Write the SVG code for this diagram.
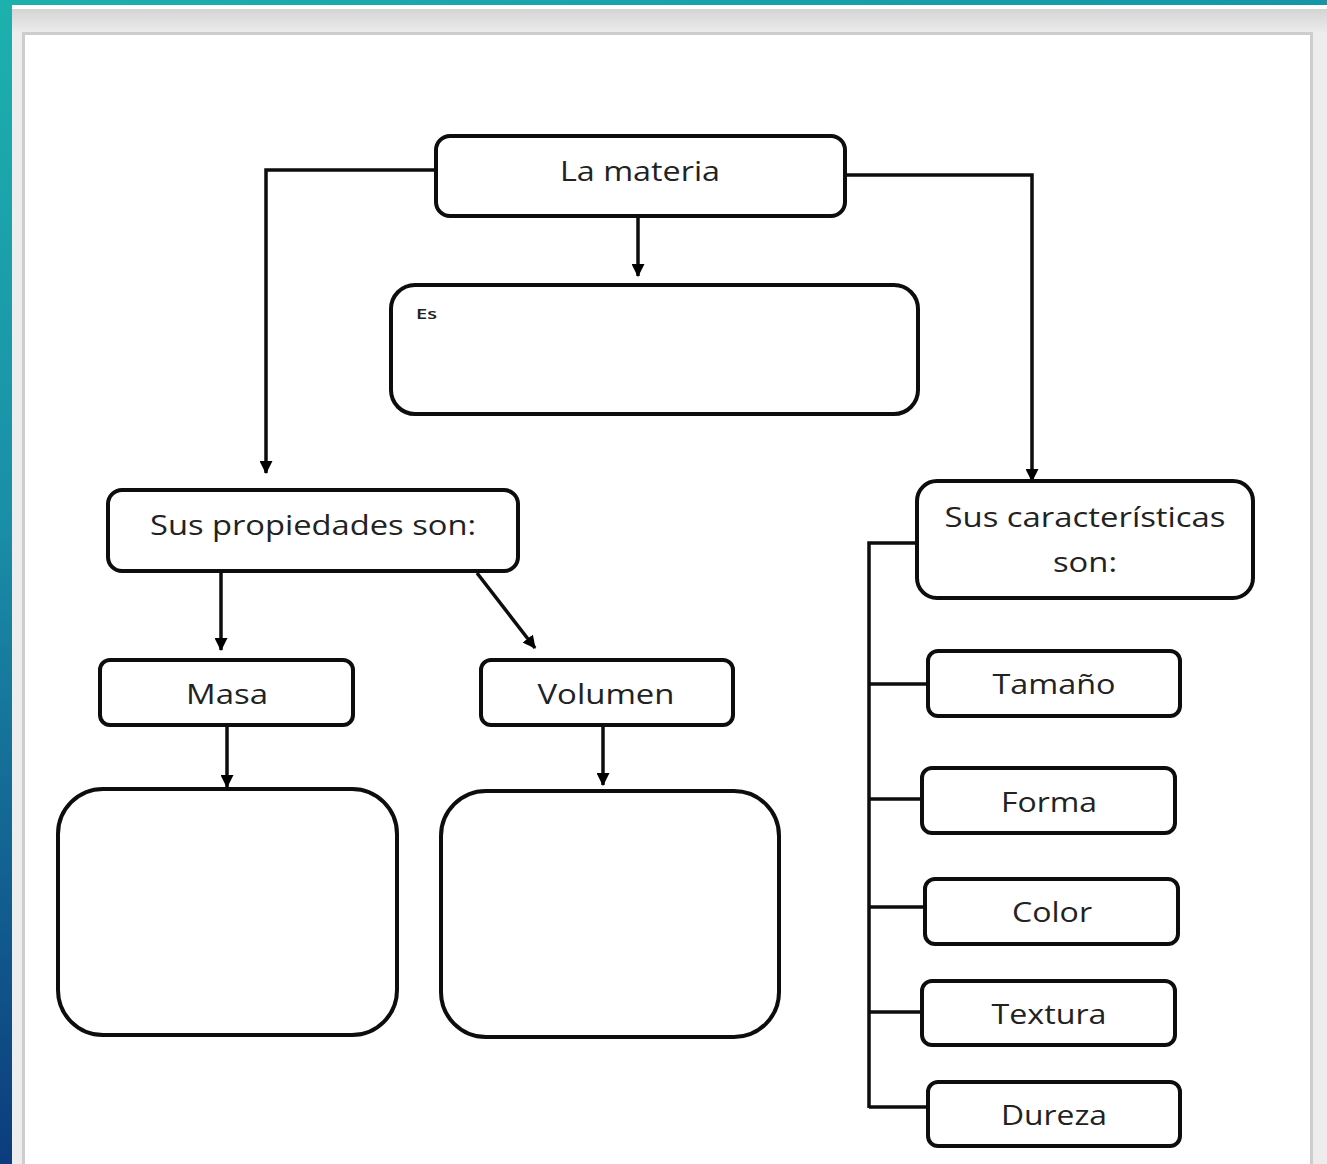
<svg xmlns="http://www.w3.org/2000/svg" width="1327" height="1164" viewBox="0 0 1327 1164">
<defs>
<linearGradient id="lg" x1="0" y1="0" x2="0" y2="1">
<stop offset="0" stop-color="#1cb1ad"/>
<stop offset="0.45" stop-color="#1a8ea8"/>
<stop offset="1" stop-color="#0c3c7d"/>
</linearGradient>
<linearGradient id="tg" x1="0" y1="0" x2="1" y2="0">
<stop offset="0" stop-color="#1cb0ad"/>
<stop offset="1" stop-color="#1596a8"/>
</linearGradient>
<linearGradient id="sh" x1="0" y1="0" x2="0" y2="1">
<stop offset="0" stop-color="#d4d4d4"/>
<stop offset="1" stop-color="#ececec"/>
</linearGradient>
<marker id="ah" markerUnits="userSpaceOnUse" markerWidth="13" markerHeight="13" viewBox="0 0 12 12" refX="11" refY="6" orient="auto">
<path d="M0,0 L12,6 L0,12 z" fill="#000"/>
</marker>
<style>
.box{fill:#fff;stroke:#0d0d0d;stroke-width:4}
.ln{fill:none;stroke:#0d0d0d;stroke-width:3.5}
.t{font-family:"Open Sans","DejaVu Sans",sans-serif;font-size:28px;font-weight:500;fill:#222;text-anchor:middle}
</style>
</defs>
<g id="background">
<rect x="0" y="0" width="1327" height="1164" fill="#ededed"/>
<rect x="12" y="9" width="1315" height="24" fill="url(#sh)"/>
<rect x="0" y="0" width="1327" height="5" fill="url(#tg)"/>
<rect x="12" y="5" width="1315" height="4" fill="#ffffff"/>
<rect x="0" y="0" width="12" height="1164" fill="url(#lg)"/>
<rect x="23.5" y="33.5" width="1288" height="1140" fill="#ffffff" stroke="#cdcdcd" stroke-width="3"/>
</g>
<g id="connectors">
<path class="ln" d="M638,216 V276" marker-end="url(#ah)"/>
<path class="ln" d="M436,170 H266 V473" marker-end="url(#ah)"/>
<path class="ln" d="M845,175 H1032 V481" marker-end="url(#ah)"/>
<path class="ln" d="M221,571 V650" marker-end="url(#ah)"/>
<path class="ln" d="M477,573 L535,648" marker-end="url(#ah)"/>
<path class="ln" d="M227,725 V787" marker-end="url(#ah)"/>
<path class="ln" d="M603,725 V785" marker-end="url(#ah)"/>
<path class="ln" d="M917,543 H869 V1108"/>
<path class="ln" d="M869,684 H928"/>
<path class="ln" d="M869,799 H922"/>
<path class="ln" d="M869,907 H925"/>
<path class="ln" d="M869,1012 H922"/>
<path class="ln" d="M869,1107 H928"/>
</g>
<g id="n-materia"><rect class="box" x="436" y="136" width="409" height="80" rx="14"/><text class="t" x="640" y="181" textLength="160" lengthAdjust="spacingAndGlyphs">La materia</text></g>
<g id="n-es"><rect class="box" x="391" y="285" width="527" height="129" rx="24"/><text x="416" y="319" font-family="'Open Sans','DejaVu Sans',sans-serif" font-size="15" font-weight="600" fill="#222" textLength="21" lengthAdjust="spacingAndGlyphs">Es</text></g>
<g id="n-propiedades"><rect class="box" x="108" y="490" width="410" height="81" rx="14"/><text class="t" x="313" y="535" textLength="326" lengthAdjust="spacingAndGlyphs">Sus propiedades son:</text></g>
<g id="n-masa"><rect class="box" x="100" y="660" width="253" height="65" rx="10"/><text class="t" x="227" y="704" textLength="82" lengthAdjust="spacingAndGlyphs">Masa</text></g>
<g id="n-volumen"><rect class="box" x="481" y="660" width="252" height="65" rx="10"/><text class="t" x="606" y="704" textLength="137" lengthAdjust="spacingAndGlyphs">Volumen</text></g>
<g id="n-masa-box"><rect class="box" x="58" y="789" width="339" height="246" rx="45"/></g>
<g id="n-volumen-box"><rect class="box" x="441" y="791" width="338" height="246" rx="45"/></g>
<g id="n-caracteristicas"><rect class="box" x="917" y="481" width="336" height="117" rx="20"/><text class="t" x="1085" y="527" textLength="281" lengthAdjust="spacingAndGlyphs">Sus características</text><text class="t" x="1085" y="572" textLength="64" lengthAdjust="spacingAndGlyphs">son:</text></g>
<g id="n-tamano"><rect class="box" x="928" y="651" width="252" height="65" rx="10"/><text class="t" x="1054" y="694" textLength="123" lengthAdjust="spacingAndGlyphs">Tamaño</text></g>
<g id="n-forma"><rect class="box" x="922" y="768" width="253" height="65" rx="10"/><text class="t" x="1049" y="812" textLength="96" lengthAdjust="spacingAndGlyphs">Forma</text></g>
<g id="n-color"><rect class="box" x="925" y="879" width="253" height="65" rx="10"/><text class="t" x="1052" y="922" textLength="80" lengthAdjust="spacingAndGlyphs">Color</text></g>
<g id="n-textura"><rect class="box" x="922" y="981" width="253" height="64" rx="10"/><text class="t" x="1049" y="1024" textLength="115" lengthAdjust="spacingAndGlyphs">Textura</text></g>
<g id="n-dureza"><rect class="box" x="928" y="1082" width="252" height="64" rx="10"/><text class="t" x="1054" y="1125" textLength="106" lengthAdjust="spacingAndGlyphs">Dureza</text></g>
</svg>
